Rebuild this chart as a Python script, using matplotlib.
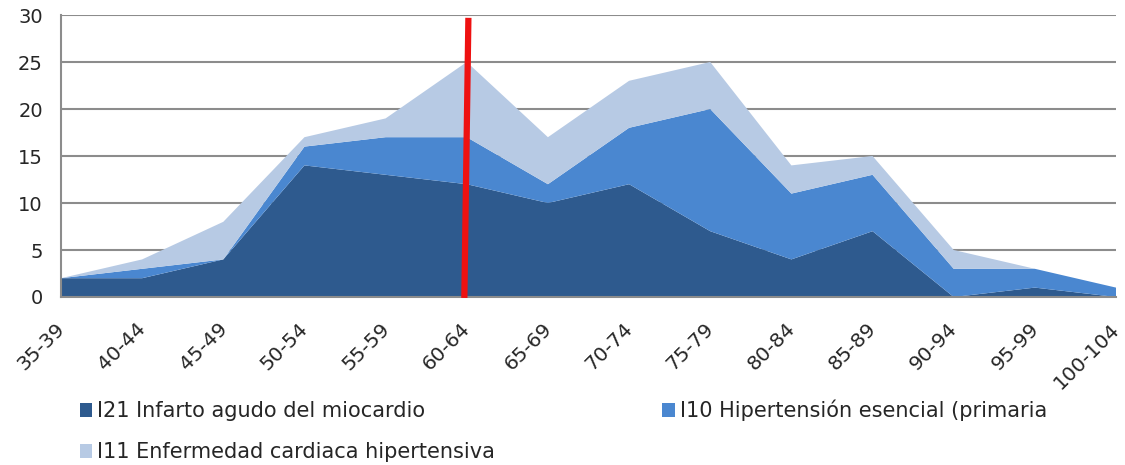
import matplotlib
matplotlib.use("Agg")
import matplotlib.pyplot as plt
import matplotlib.transforms as mtransforms
import numpy as np

# Age groups and cases per diagnosis
age_groups = ["35-39", "40-44", "45-49", "50-54", "55-59", "60-64", "65-69",
              "70-74", "75-79", "80-84", "85-89", "90-94", "95-99", "100-104"]
i21_infarto = [2, 2, 4, 14, 13, 12, 10, 12, 7, 4, 7, 0, 1, 0]
i10_hipertension = [0, 1, 0, 2, 4, 5, 2, 6, 13, 7, 6, 3, 2, 1]
i11_cardiaca = [0, 1, 4, 1, 2, 8, 5, 5, 5, 3, 2, 2, 0, 0]

series_names = ["I21 Infarto agudo del miocardio",
                "I10 Hipertensión esencial (primaria",
                "I11 Enfermedad cardiaca hipertensiva"]
colors = ["#2E5A8E", "#4A87D0", "#B7CAE4"]

yticks = [0, 5, 10, 15, 20, 25, 30]
marker_group = "60-64"

plt.rcParams["font.family"] = ["DejaVu Sans"]
text_color = "#262626"

fig = plt.figure(figsize=(11.25, 4.65), dpi=100)
ax = fig.add_axes([61 / 1125, 1 - 297 / 465, (1116 - 61) / 1125, (297 - 15) / 465])

x = np.arange(len(age_groups))
polys = ax.stackplot(x, i21_infarto, i10_hipertension, i11_cardiaca,
                     colors=colors, labels=series_names, linewidth=0, zorder=2)

ax.set_xlim(0, len(age_groups) - 1)
ax.set_ylim(0, 30)
ax.set_yticks(yticks)
ax.yaxis.grid(True, color="#8C8C8C", linewidth=1.5, zorder=1)
ax.set_axisbelow(True)

for side in ("top", "right"):
    ax.spines[side].set_visible(False)
for side in ("left", "bottom"):
    ax.spines[side].set_color("#8C8C8C")
    ax.spines[side].set_linewidth(1.5)

ax.set_xticks(x)
ax.set_xticklabels(age_groups, rotation=45, ha="right", rotation_mode="anchor",
                   fontsize=14.5, color=text_color)
ax.tick_params(axis="x", length=0, pad=16)
ax.tick_params(axis="y", length=0, pad=13, labelsize=14, labelcolor=text_color)

# nudge the rotated category labels slightly left so the last one stays inside
shift = mtransforms.ScaledTranslation(-6 / 100, 0, fig.dpi_scale_trans)
for lbl in ax.get_xticklabels():
    lbl.set_transform(lbl.get_transform() + shift)

# Vertical red marker at the 60-64 group
mx = age_groups.index(marker_group)
ax.plot([mx + 0.02, mx - 0.03], [29.7, -0.1], color="#EE1111", linewidth=4.5,
        solid_capstyle="butt", zorder=5, clip_on=False)

handles = [polys[0], polys[2], polys[1]]
labels = [series_names[0], series_names[2], series_names[1]]
leg = fig.legend(handles, labels, ncol=2, loc="upper left",
                 bbox_to_anchor=(61 / 1125, 1 - 381 / 465), frameon=False,
                 fontsize=15, handlelength=0.6, handleheight=0.7,
                 handletextpad=0.25, columnspacing=8.0, labelspacing=1.0)
for t in leg.get_texts():
    t.set_color(text_color)

fig.savefig("out.png", dpi=100)
